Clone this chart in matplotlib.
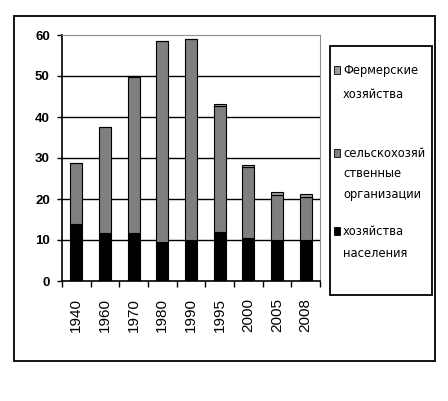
import numpy as np
import matplotlib.pyplot as plt
from matplotlib.patches import Rectangle

plt.rcParams["font.family"] = ["Liberation Sans", "DejaVu Sans"]

years = ["1940", "1960", "1970", "1980", "1990", "1995", "2000", "2005", "2008"]
population = [13.9, 11.6, 11.6, 9.6, 10.0, 12.0, 10.6, 10.0, 10.0]
organizations = [14.9, 26.0, 38.1, 49.0, 49.1, 30.7, 17.2, 10.9, 10.6]
farmers = [0.0, 0.0, 0.3, 0.0, 0.0, 0.5, 0.5, 0.7, 0.5]

labels = ["Фермерские\nхозяйства", "сельскохозяй\nственные\nорганизации",
          "хозяйства\nнаселения"]
colors = ["#9a9a9a", "#7f7f7f", "#000000"]

fig = plt.figure(figsize=(4.48, 4.01), dpi=100)
ax = fig.add_axes([62 / 448, 1 - 281 / 401, 258 / 448, 246 / 401])

# outer chart frame
fig.patches.append(Rectangle((14 / 448, 1 - 361 / 401), 421 / 448, 345 / 401,
                             transform=fig.transFigure, fill=False,
                             edgecolor="black", linewidth=1.3))

x = np.arange(len(years))
w = 0.42
pop = np.array(population)
org = np.array(organizations)
frm = np.array(farmers)

ax.bar(x, pop, w, color=colors[2], edgecolor="black", linewidth=0.8, zorder=3)
ax.bar(x, org, w, bottom=pop, color=colors[1], edgecolor="black", linewidth=0.8, zorder=3)
ax.bar(x, frm, w, bottom=pop + org, color=colors[0], edgecolor="black", linewidth=0.8, zorder=3)

ax.set_xlim(-0.5, len(years) - 0.5)
ax.set_ylim(0, 60)
ax.set_yticks(range(0, 61, 10))
ax.set_yticklabels([str(v) for v in range(0, 61, 10)], fontsize=9.5, fontweight="bold")
ax.set_xticks(x)
ax.set_xticklabels(years, rotation=90, fontsize=11, va="top")
ax.set_xticks(np.arange(-0.5, len(years)), minor=True)
ax.tick_params(axis="x", which="major", length=0, pad=12)
ax.tick_params(axis="x", which="minor", length=4.5, width=1, direction="out")
ax.tick_params(axis="y", length=3.8, width=1, direction="out", pad=5)

for v in range(10, 60, 10):
    ax.axhline(v, color="black", linewidth=1, zorder=1)

for side in ["top", "right"]:
    ax.spines[side].set_color("#909090")
ax.spines["left"].set_linewidth(1.2)
ax.spines["bottom"].set_linewidth(1.2)

# legend box
fig.patches.append(Rectangle((330 / 448, 1 - 295 / 401), 102 / 448, 249 / 401,
                             transform=fig.transFigure, fill=False,
                             edgecolor="black", linewidth=1.3))
entry_y = [70, 153, 231]
spacing = [2.05, 1.75, 1.9]
for lab, col, yy, ls in zip(labels, colors, entry_y, spacing):
    fig.patches.append(Rectangle((334 / 448, 1 - (yy + 4) / 401), 6 / 448, 8 / 401,
                                 transform=fig.transFigure, facecolor=col,
                                 edgecolor="black", linewidth=0.6))
    fig.text(343 / 448, 1 - (yy - 6) / 401, lab, fontsize=8.3, va="top",
             ha="left", linespacing=ls, family=["DejaVu Sans"])

fig.savefig("out.png", dpi=100)
